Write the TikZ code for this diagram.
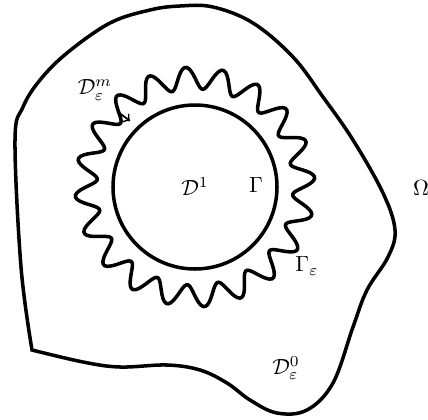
\documentclass[tikz,border=0pt]{standalone}
\usepackage{amsmath}
\usetikzlibrary{calc}

\begin{document}
\begin{tikzpicture}[x=0.016cm, y=-0.016cm, line width=1.6pt]
    \useasboundingbox (0,0) rectangle (428,420);

    % Outer domain
    \draw plot[smooth, tension=0.6] coordinates {(32,350) (21,267) (15,140) (23,107) (40,80) (67,53) (110,23) (150,10) (180,6) (213,7) (253,23) (293,57) (323,97) (353,140) (383,193) (395,230) (388,257) (367,290) (353,327) (333,383) (307,410) (277,413) (250,400) (227,383) (200,370) (167,365) (120,367) (83,362) (32,350)} -- cycle;

    % Inclusion and its rough boundary
    \coordinate (O) at (195,187);
    \draw (O) circle[radius=82];
    \draw plot[domain=0:360, samples=361, smooth cycle]
        ({195+(109+11*sin(20*\x))*cos(\x)}, {187-(109+11*sin(20*\x))*sin(\x)});

    % Labels
    \node (D1) at (195,187) {$\mathcal{D}^1$};
    \node (G) at (256,185) {$\Gamma$};
    \node (Ge) at (307,266) {$\Gamma_\varepsilon$};
    \node (Om) at (421,188) {$\Omega$};
    \node (D0) at (286,368) {$\mathcal{D}^0_\varepsilon$};
    \node (Dm) at (95,90) {$\mathcal{D}^m_\varepsilon$};
    \coordinate (Dmend) at (130,121);
    \draw[->, line width=0.8pt] (Dm.south east) ++(-4,2) -- (Dmend);
\end{tikzpicture}
\end{document}
